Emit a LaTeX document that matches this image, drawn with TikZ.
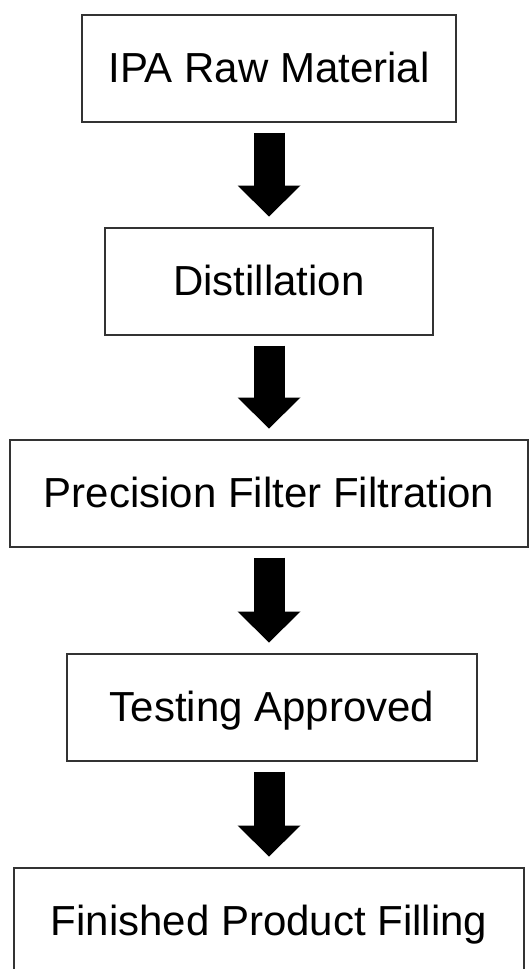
\documentclass[tikz,border=0pt]{standalone}
\usepackage{fontspec}
\setmainfont{Liberation Sans}
\usetikzlibrary{arrows.meta}
\usetikzlibrary{positioning}

\tikzset{
  procbox/.style={draw=black!80, line width=2pt, inner sep=0pt,
    minimum height=107pt, text height=29pt, text depth=0pt,
    font=\fontsize{42}{48}\selectfont},
  flowarrow/.style={line width=31pt, draw=black,
    -{Triangle[length=31pt, width=63pt, line width=0pt]},
    shorten <=10pt, shorten >=10pt},
}

\begin{document}
\begin{tikzpicture}[x=1pt, y=-1pt]
      \useasboundingbox (0,0) rectangle (528,969);

      \node [procbox, minimum width=374pt] (raw) at (269,68) {IPA Raw Material};
      \node [procbox, minimum width=328pt, below=104pt of raw] (dist) {Distillation};
      \node [procbox, minimum width=518pt, below=103pt of dist] (filt) {Precision Filter Filtration};
      \node [procbox, minimum width=410pt, below=105pt of filt, xshift=3pt] (test) {Testing Approved};
      \node [procbox, minimum width=510pt, below=105pt of test, xshift=-3pt] (fill) {Finished Product Filling};

      \draw [flowarrow] (raw.south) -- (dist.north);
      \draw [flowarrow] (dist.south) -- (filt.north);
      \draw [flowarrow] (filt.south) -- (filt.south |- test.north);
      \draw [flowarrow] (filt.south |- test.south) -- (fill.north);
    \end{tikzpicture}
\end{document}
